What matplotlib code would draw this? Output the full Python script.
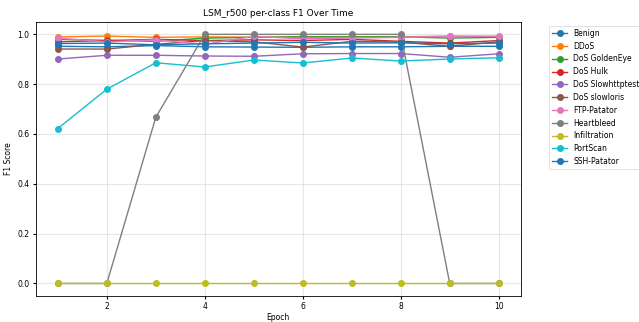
import matplotlib
matplotlib.use("Agg")
import matplotlib.pyplot as plt

epochs = [1, 2, 3, 4, 5, 6, 7, 8, 9, 10]
classes = ["Benign", "DDoS", "DoS GoldenEye", "DoS Hulk", "DoS Slowhttptest",
           "DoS slowloris", "FTP-Patator", "Heartbleed", "Infiltration",
           "PortScan", "SSH-Patator"]

benign = [0.952, 0.950, 0.955, 0.950, 0.949, 0.948, 0.950, 0.950, 0.952, 0.952]
ddos = [0.990, 0.993, 0.988, 0.990, 0.988, 0.990, 0.990, 0.990, 0.993, 0.990]
goldeneye = [0.980, 0.976, 0.972, 0.985, 0.988, 0.990, 0.990, 0.990, 0.985, 0.988]
hulk = [0.970, 0.975, 0.980, 0.975, 0.978, 0.975, 0.980, 0.972, 0.965, 0.975]
slowhttp = [0.901, 0.916, 0.916, 0.913, 0.912, 0.922, 0.923, 0.923, 0.908, 0.922]
slowloris = [0.941, 0.941, 0.960, 0.975, 0.970, 0.949, 0.972, 0.969, 0.952, 0.970]
ftp = [0.985, 0.970, 0.978, 0.960, 0.992, 0.982, 0.985, 0.988, 0.992, 0.993]
heartbleed = [0.0, 0.0, 0.667, 1.0, 1.0, 1.0, 1.0, 1.0, 0.0, 0.0]
infiltration = [0.0, 0.0, 0.0, 0.0, 0.0, 0.0, 0.0, 0.0, 0.0, 0.0]
portscan = [0.622, 0.780, 0.886, 0.869, 0.897, 0.885, 0.905, 0.893, 0.901, 0.906]
ssh = [0.963, 0.965, 0.958, 0.962, 0.965, 0.968, 0.965, 0.966, 0.962, 0.965]

series = [benign, ddos, goldeneye, hulk, slowhttp, slowloris, ftp,
          heartbleed, infiltration, portscan, ssh]

fig = plt.figure(figsize=(6.39, 3.22), dpi=100)
ax = fig.add_axes([0.056, 0.081, 0.759, 0.851])
for name, vals in zip(classes, series):
    ax.plot(epochs, vals, marker="o", markersize=4, linewidth=1.0, label=name)

ax.set_title("LSM_r500 per-class F1 Over Time", fontsize=6.5, pad=4)
ax.set_xlabel("Epoch", fontsize=5.5, labelpad=1)
ax.set_ylabel("F1 Score", fontsize=5.5, labelpad=3)
ax.tick_params(labelsize=5.5, length=2.5, pad=2)
ax.grid(True, alpha=0.3)
for s in ax.spines.values():
    s.set_linewidth(0.6)
leg = ax.legend(loc="upper left", bbox_to_anchor=(1.05, 1), fontsize=5.5,
                handlelength=2.0, labelspacing=0.5)
leg.get_frame().set_linewidth(0.5)

fig.savefig("out.png", dpi=100)
